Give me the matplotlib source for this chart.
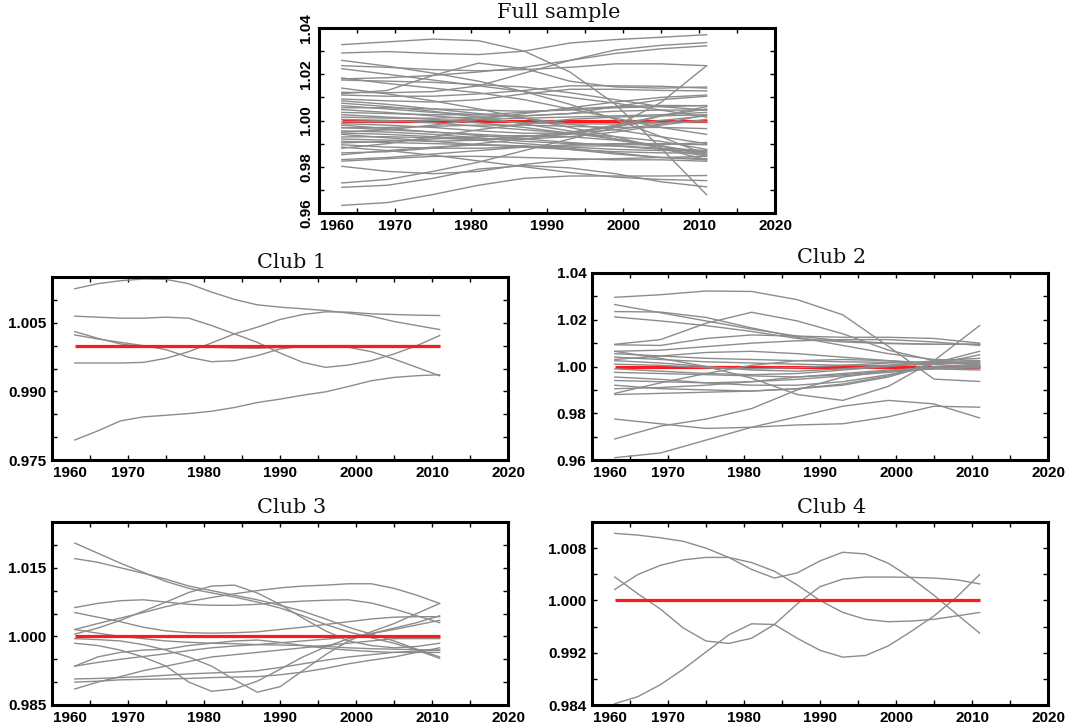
import matplotlib
matplotlib.use("Agg")
import matplotlib.pyplot as plt
from matplotlib.ticker import FixedLocator, MultipleLocator, FixedFormatter

# ---------------- data (deviation from 1, in thousandths) ----------------
years_coarse = [1963, 1969, 1975, 1981, 1987, 1993, 1999, 2005, 2011]
years_fine = [1963, 1966, 1969, 1972, 1975, 1978, 1981, 1984, 1987,
              1990, 1993, 1996, 1999, 2002, 2005, 2008, 2011]

full_dev = [
    [32.8, 34.0, 35.2, 34.5, 30.0, 21.0, 7.0, -12.0, -32.1],
    [29.2, 29.8, 29.0, 28.5, 30.0, 33.5, 35.0, 36.0, 37.1],
    [26.0, 23.5, 20.5, 17.0, 12.5, 7.0, 0.5, -7.0, -14.8],
    [23.7, 23.0, 22.0, 21.5, 22.0, 23.0, 24.5, 24.5, 23.7],
    [22.4, 20.0, 17.5, 15.0, 12.5, 10.0, 7.5, 4.5, 1.5],
    [18.4, 16.0, 14.0, 12.0, 9.0, 5.0, 1.0, -3.0, -6.0],
    [17.5, 17.0, 16.5, 15.5, 14.5, 12.0, 9.0, 6.0, 4.5],
    [12.2, 12.0, 12.5, 15.0, 20.5, 26.0, 30.5, 32.5, 33.7],
    [11.6, 13.0, 19.5, 24.8, 22.5, 17.0, 14.5, 14.0, 14.5],
    [11.0, 10.5, 10.5, 11.5, 13.0, 15.0, 15.0, 14.8, 14.0],
    [9.3, 8.5, 8.0, 9.0, 11.5, 13.5, 13.5, 13.0, 12.8],
    [8.5, 7.0, 5.0, 3.0, 1.0, -1.5, -4.0, -7.0, -10.0],
    [6.4, 5.0, 3.5, 2.5, 2.0, 3.0, 6.0, 9.0, 10.5],
    [5.5, 5.5, 5.0, 4.5, 4.0, 4.5, 5.5, 6.0, 6.5],
    [4.7, 3.5, 2.0, 0.5, -1.0, -1.5, -1.5, -1.0, -0.5],
    [3.5, 3.0, 2.5, 2.5, 3.5, 5.0, 6.0, 6.5, 6.4],
    [2.5, 1.5, 0.5, -1.0, -3.0, -5.5, -8.0, -11.0, -14.0],
    [1.5, 1.0, 1.0, 1.5, 2.0, 3.0, 4.0, 4.5, 4.5],
    [0.5, 0.0, -1.0, -2.5, -4.0, -5.5, -7.0, -9.0, -12.5],
    [-0.5, -0.5, 0.0, 0.5, 1.0, 1.5, 2.0, 2.5, 3.5],
    [-1.4, -2.0, -3.0, -4.5, -5.5, -5.5, -4.0, -1.5, 2.5],
    [-2.0, -3.5, -5.0, -6.5, -8.0, -9.5, -11.0, -12.5, -13.5],
    [-3.2, -3.0, -2.5, -2.0, -2.0, -2.5, -3.0, -3.0, -3.5],
    [-3.0, -4.0, -5.0, -6.0, -7.0, -6.0, -2.5, 7.8, 23.7],
    [-4.5, -5.0, -6.0, -7.5, -9.0, -10.0, -10.5, -10.5, -9.5],
    [-5.4, -6.0, -7.0, -8.0, -8.0, -7.0, -5.0, -2.0, 0.5],
    [-6.0, -7.5, -9.0, -10.5, -11.5, -12.5, -13.5, -14.0, -14.0],
    [-7.1, -7.0, -7.5, -8.5, -10.0, -11.5, -12.5, -13.0, -13.0],
    [-8.0, -8.5, -9.0, -8.5, -7.0, -5.0, -2.5, 0.0, 2.0],
    [-9.0, -9.5, -10.0, -10.5, -11.0, -12.0, -14.0, -16.0, -16.5],
    [-9.7, -9.0, -8.0, -7.0, -6.5, -7.0, -8.5, -11.0, -15.0],
    [-10.5, -11.5, -12.0, -12.0, -11.5, -11.0, -11.0, -12.0, -13.0],
    [-14.0, -13.5, -12.0, -10.0, -8.0, -5.5, -2.0, 2.0, 5.0],
    [-14.8, -13.0, -11.5, -10.5, -11.0, -12.5, -14.5, -16.0, -17.0],
    [-16.9, -16.0, -14.5, -13.0, -11.5, -10.5, -10.0, -10.0, -10.5],
    [-17.6, -16.5, -15.5, -15.5, -16.0, -16.5, -17.0, -17.0, -17.6],
    [-19.8, -22.0, -23.0, -22.0, -19.0, -17.0, -16.5, -16.0, -15.5],
    [-27.0, -25.5, -22.0, -18.0, -13.0, -8.0, -3.0, 2.0, 6.0],
    [-28.9, -28.0, -25.0, -21.0, -19.5, -20.5, -23.0, -26.5, -28.7],
    [-36.7, -35.5, -32.0, -28.0, -25.0, -24.0, -24.0, -24.0, -23.8],
    [-12.0, -10.0, -7.0, -4.0, -1.5, 0.5, 1.5, 2.0, 2.5],
    [7.5, 6.0, 4.0, 1.5, -1.5, -4.5, -8.0, -12.0, -15.5],
    [14.0, 11.5, 8.5, 5.0, 1.0, -3.0, -7.0, -12.0, -17.0],
    [-5.0, -4.0, -2.0, 0.5, 3.0, 5.5, 8.0, 10.0, 11.0],
    [-11.5, -13.0, -15.0, -17.5, -20.0, -22.5, -24.5, -25.5, -26.0],
    [18.0, 18.5, 19.5, 21.0, 23.0, 26.0, 29.0, 31.0, 32.3],
]

club1_dev = [
    [12.44, 13.53, 14.19, 14.56, 14.48, 13.53, 11.70, 10.10, 8.92, 8.41, 8.05, 7.68, 7.10, 6.44, 5.27, 4.39, 3.51],
    [6.44, 6.22, 6.00, 6.00, 6.22, 6.00, 4.39, 2.56, 0.73, -1.61, -3.66, -4.75, -4.24, -3.29, -1.83, 0.00, 2.19],
    [3.07, 1.61, 0.37, -0.22, -0.37, -0.37, -0.37, -0.51, -0.59, -0.37, -0.15, -0.22, -0.37, -1.32, -2.93, -4.75, -6.58],
    [2.34, 1.46, 0.73, 0.00, -0.88, -2.56, -3.51, -3.29, -2.19, -0.73, -0.15, 0.00, 0.00, 0.00, 0.00, 0.00, 0.00],
    [-3.80, -3.80, -3.80, -3.66, -2.78, -1.32, 0.59, 2.56, 4.02, 5.71, 6.80, 7.39, 7.32, 6.95, 6.80, 6.66, 6.58],
    [-20.63, -18.65, -16.46, -15.58, -15.22, -14.85, -14.34, -13.53, -12.44, -11.70, -10.83, -10.10, -8.93, -7.68, -6.95, -6.58, -6.36],
]

club2_dev = [
    [29.6, 30.7, 32.3, 32.1, 28.6, 22.1, 8.6, -5.4, -6.4],
    [26.5, 23.0, 19.5, 16.0, 13.0, 11.0, 10.0, 9.5, 9.5],
    [23.5, 23.3, 21.0, 16.5, 12.5, 9.0, 5.5, 3.0, 2.5],
    [21.2, 19.5, 17.5, 15.0, 12.0, 10.5, 9.8, 9.5, 9.5],
    [9.5, 11.5, 18.5, 23.2, 19.5, 14.0, 7.0, 2.5, 0.5],
    [9.3, 9.0, 12.0, 13.5, 13.0, 12.5, 12.5, 12.0, 10.0],
    [6.5, 7.0, 8.5, 10.0, 11.0, 11.5, 11.5, 10.5, 9.0],
    [5.5, 4.5, 3.5, 3.0, 2.5, 2.0, 1.8, 1.5, 1.5],
    [6.5, 3.5, 0.0, -5.0, -12.0, -14.5, -8.5, 2.5, 17.5],
    [-11.5, -7.0, -3.0, 0.5, 2.5, 3.0, 2.5, 1.0, -0.5],
    [-2.5, -3.0, -3.5, -4.0, -4.5, -3.5, -2.0, -1.0, -1.5],
    [-4.5, -5.5, -7.0, -8.0, -8.0, -6.5, -3.5, 0.0, 0.5],
    [-8.0, -9.5, -10.0, -10.5, -9.5, -8.0, -4.5, 1.0, 5.0],
    [-12.0, -11.5, -11.0, -10.5, -9.5, -7.5, -4.0, 1.5, 6.5],
    [-22.5, -24.5, -26.5, -26.0, -25.0, -24.5, -21.5, -17.0, -17.4],
    [-31.0, -25.5, -22.5, -18.0, -10.0, -4.5, -2.0, -0.5, 0.0],
    [-39.0, -37.0, -31.5, -26.0, -21.5, -17.0, -14.5, -16.0, -22.0],
    [4.0, 3.0, 2.0, 1.5, 1.0, 0.5, 0.5, 1.0, 2.0],
    [2.5, 1.5, 0.0, -1.5, -2.0, -1.0, 0.5, 2.5, 3.5],
    [1.0, 0.5, -0.5, -1.0, -0.5, 0.5, 1.5, 2.0, 2.0],
    [-1.0, -2.0, -3.0, -3.5, -3.0, -1.5, 0.0, 1.5, 1.0],
    [-6.0, -6.5, -7.0, -6.5, -5.5, -4.0, -2.5, -1.0, -0.5],
    [-9.5, -9.0, -8.0, -6.5, -4.5, -3.0, -1.5, -0.5, -0.5],
    [3.0, 4.5, 6.0, 6.5, 5.5, 4.0, 2.5, 1.5, 1.0],
]

club3_dev = [
    [20.4, 18.2, 16.0, 14.0, 12.0, 10.5, 9.5, 8.6, 7.5, 6.2, 4.5, 2.6, 1.0, -0.3, -1.5, -3.0, -4.8],
    [17.0, 16.2, 15.0, 13.8, 12.5, 11.0, 10.0, 9.0, 8.0, 6.8, 5.5, 3.8, 2.0, 0.5, -1.0, -2.8, -4.5],
    [0.5, 1.8, 3.5, 5.5, 7.5, 9.6, 11.0, 11.2, 9.5, 7.0, 4.0, 1.2, -1.0, -2.0, -2.5, -2.2, -1.5],
    [1.5, 2.8, 4.0, 5.2, 6.5, 7.6, 8.5, 9.3, 10.0, 10.6, 11.0, 11.2, 11.5, 11.5, 10.5, 9.0, 7.2],
    [6.3, 7.2, 7.8, 8.0, 7.5, 7.0, 6.8, 6.8, 7.0, 7.4, 7.7, 7.9, 8.0, 7.3, 6.0, 4.5, 3.0],
    [5.2, 4.2, 3.2, 2.0, 1.2, 0.8, 0.7, 0.8, 1.0, 1.5, 2.0, 2.6, 3.2, 3.8, 4.2, 4.3, 4.3],
    [1.5, 0.7, 0.0, -0.5, -1.0, -1.3, -1.5, -1.6, -1.8, -1.9, -2.0, -2.2, -2.5, -2.7, -2.8, -2.9, -3.0],
    [-6.5, -4.5, -3.5, -3.0, -2.8, -2.0, -1.5, -1.0, -0.8, -1.3, -2.0, -2.6, -3.0, -3.3, -3.5, -3.5, -3.5],
    [-6.5, -5.7, -5.0, -4.4, -3.8, -3.1, -2.5, -2.1, -1.8, -1.4, -1.0, -0.6, -0.2, 0.6, 1.8, 3.0, 4.5],
    [-1.5, -2.0, -3.0, -4.5, -6.5, -10.0, -12.0, -11.5, -9.8, -7.2, -4.5, -2.3, -0.5, 0.6, 1.5, 2.5, 3.5],
    [-0.5, -0.7, -1.0, -1.8, -3.0, -4.5, -6.5, -9.5, -12.2, -11.0, -7.5, -4.0, -1.0, 1.0, 2.8, 5.0, 7.2],
    [-9.3, -9.2, -9.0, -8.8, -8.5, -8.2, -8.0, -7.8, -7.5, -6.8, -6.0, -5.2, -4.5, -4.0, -3.5, -3.2, -3.0],
    [-10.0, -9.8, -9.5, -9.4, -9.3, -9.2, -9.0, -8.9, -8.8, -8.4, -7.8, -7.0, -6.0, -5.2, -4.5, -3.5, -2.5],
    [-11.5, -10.0, -8.8, -7.5, -6.5, -5.5, -4.5, -4.0, -3.5, -3.0, -2.5, -2.0, -1.5, -1.0, -0.5, -0.5, -0.5],
]

club4_dev = [
    [10.26, 10.00, 9.58, 9.05, 8.00, 6.58, 4.74, 3.42, 4.21, 6.05, 7.37, 7.11, 5.68, 3.42, 0.79, -2.11, -5.00],
    [1.68, 3.95, 5.37, 6.21, 6.58, 6.58, 5.79, 4.47, 2.37, 0.00, -1.84, -2.89, -3.26, -3.16, -2.89, -2.37, -1.84],
    [3.58, 1.05, -1.32, -4.21, -6.21, -6.58, -5.79, -3.68, -0.53, 2.11, 3.26, 3.58, 3.58, 3.53, 3.42, 3.16, 2.53],
    [-15.79, -14.74, -12.89, -10.53, -7.89, -5.26, -3.58, -3.68, -5.79, -7.63, -8.68, -8.42, -6.95, -4.74, -2.37, 0.53, 3.95],
]

titles = ["Full sample", "Club 1", "Club 2", "Club 3", "Club 4"]

# ---------------- figure ----------------
W, H = 1072, 727
fig = plt.figure(figsize=(W / 100, H / 100), dpi=100)

GRAY = "#8c8c8c"
RED = "#ff1a1a"
TF = dict(fontfamily="Liberation Sans", fontweight="bold", fontsize=11)


def add_ax(l, t, r, b):
    return fig.add_axes([l / W, 1 - b / H, (r - l) / W, (b - t) / H])


panels = [
    # title, years, data, rect(px), ylim, major ticks, minor step, fmt, rotate, red on top
    (titles[0], years_coarse, full_dev, (319, 28, 775, 213), (0.96, 1.04), [0.96, 0.98, 1.00, 1.02, 1.04], 0.01, "%.2f", True, False),
    (titles[1], years_fine, club1_dev, (52, 277, 508, 460), (0.975, 1.015), [0.975, 0.990, 1.005], 0.005, "%.3f", False, True),
    (titles[2], years_coarse, club2_dev, (592, 273, 1048, 460), (0.96, 1.04), [0.96, 0.98, 1.00, 1.02, 1.04], 0.01, "%.2f", False, False),
    (titles[3], years_fine, club3_dev, (52, 522, 508, 705), (0.985, 1.025), [0.985, 1.000, 1.015], 0.005, "%.3f", False, True),
    (titles[4], years_fine, club4_dev, (592, 522, 1048, 705), (0.984, 1.012), [0.984, 0.992, 1.000, 1.008], 0.004, "%.3f", False, True),
]

for title, yrs, data, rect, ylim, majors, minor, fmt, rot, red_top in panels:
    ax = add_ax(*rect)
    for dev in data:
        vals = [1 + d / 1000.0 for d in dev]
        ax.plot(yrs, vals, color=GRAY, lw=1.0, zorder=2, solid_joinstyle="round")
    ax.plot([yrs[0], yrs[-1]], [1.0, 1.0], color=RED, lw=2.3,
            zorder=3 if red_top else 1.5, solid_capstyle="butt")

    ax.set_xlim(1960, 2020)
    ax.set_ylim(*ylim)

    xt = list(range(1960, 2021, 10))
    ax.xaxis.set_major_locator(FixedLocator(xt))
    ax.xaxis.set_major_formatter(FixedFormatter([""] + [str(v) for v in xt[1:]]))
    ax.xaxis.set_minor_locator(MultipleLocator(5))
    ax.annotate("1960", xy=(0, 0), xycoords="axes fraction", xytext=(13, -4),
                textcoords="offset points", ha="center", va="top", **TF)

    ax.yaxis.set_major_locator(FixedLocator(majors))
    ax.yaxis.set_major_formatter(FixedFormatter([fmt % v for v in majors]))
    ax.yaxis.set_minor_locator(MultipleLocator(minor))

    ax.tick_params(which="both", direction="in", top=True, right=True,
                   length=3.5, width=1.0, color="black")
    ax.tick_params(axis="both", pad=4)
    for lab in ax.get_xticklabels() + ax.get_yticklabels():
        lab.set_fontfamily(TF["fontfamily"])
        lab.set_fontweight(TF["fontweight"])
        lab.set_fontsize(TF["fontsize"])
    if rot:
        for lab in ax.get_yticklabels():
            lab.set_rotation(90)
            lab.set_va("center")

    for sp in ax.spines.values():
        sp.set_linewidth(2.2)
        sp.set_color("black")

    ax.text(0.526, 1.03, title, transform=ax.transAxes, ha="center", va="bottom",
            fontfamily="DejaVu Serif", fontsize=15, color="#111111")

fig.savefig("out.png", dpi=100, facecolor="white")
